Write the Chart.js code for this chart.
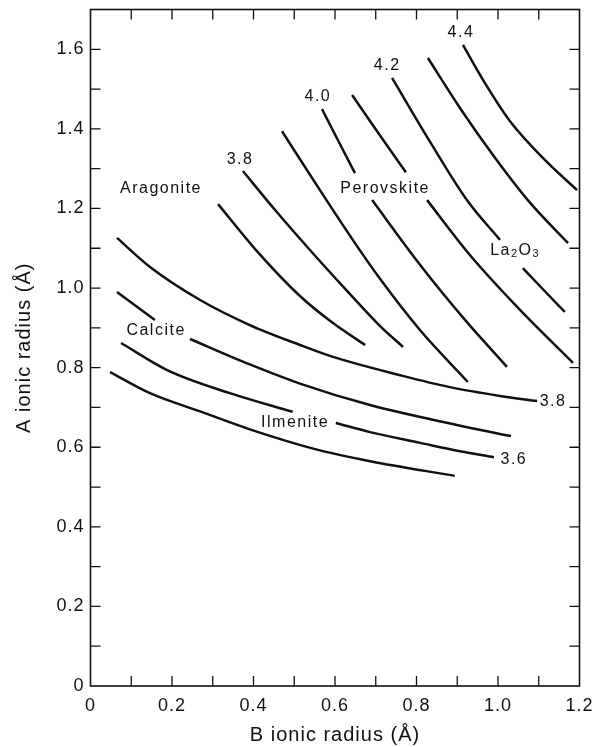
<!DOCTYPE html>
<html>
<head>
<meta charset="utf-8">
<script src="https://cdn.jsdelivr.net/npm/chart.js@4.4.0/dist/chart.umd.min.js"></script>
<style>
    html, body { margin: 0; padding: 0; background: #fff; }
</style>
</head>
<body>
<canvas id="chart" width="596" height="747"></canvas>
<script>
// axis ticks
const xTickValues = [0, 0.2, 0.4, 0.6, 0.8, 1.0, 1.2]
const xTickLabels = ['0', '0.2', '0.4', '0.6', '0.8', '1.0', '1.2']
const yTickValues = [0, 0.2, 0.4, 0.6, 0.8, 1.0, 1.2, 1.4, 1.6]
const yTickLabels = ['0', '0.2', '0.4', '0.6', '0.8', '1.0', '1.2', '1.4', '1.6']
const xMinorTicks = [0.1, 0.2, 0.3, 0.4, 0.5, 0.6, 0.7, 0.8, 0.9, 1.0, 1.1]
const yMinorTicks = [0.1, 0.2, 0.3, 0.4, 0.5, 0.6, 0.7, 0.8, 0.9, 1.0, 1.1, 1.2, 1.3, 1.4, 1.5, 1.6]

// lower family of curves (B ionic radius, A ionic radius)
const lower38 = [[0.065, 1.126], [0.146, 1.053], [0.269, 0.970], [0.391, 0.907], [0.514, 0.857], [0.595, 0.827], [0.760, 0.781], [0.882, 0.751], [1.005, 0.729], [1.096, 0.716]]
const calciteLeft = [[0.065, 0.990], [0.158, 0.920]]
const calciteRight = [[0.244, 0.872], [0.391, 0.808], [0.514, 0.760], [0.686, 0.706], [0.899, 0.656], [1.032, 0.628]]
const ilmeniteLeft = [[0.075, 0.862], [0.188, 0.794], [0.342, 0.736], [0.496, 0.689]]
const ilmeniteRight = [[0.602, 0.661], [0.686, 0.638], [0.809, 0.611], [0.907, 0.590], [0.990, 0.575]]
const lowest = [[0.048, 0.789], [0.146, 0.736], [0.269, 0.690], [0.391, 0.645], [0.556, 0.594], [0.686, 0.565], [0.894, 0.528]]

// upper family (steep curves)
const upper1 = [[0.313, 1.211], [0.404, 1.098], [0.514, 0.980], [0.595, 0.912], [0.674, 0.857]]
const upper38 = [[0.374, 1.294], [0.453, 1.196], [0.539, 1.095], [0.625, 0.998], [0.710, 0.905], [0.767, 0.852]]
const upper3 = [[0.470, 1.394], [0.563, 1.246], [0.649, 1.113], [0.710, 1.024], [0.809, 0.894], [0.926, 0.764]]
const upper40Top = [[0.568, 1.450], [0.607, 1.372], [0.649, 1.289]]
const upper40Bottom = [[0.691, 1.221], [0.809, 1.058], [0.919, 0.920], [1.022, 0.802]]
const upper5Top = [[0.642, 1.485], [0.710, 1.384], [0.774, 1.291]]
const upper5Bottom = [[0.826, 1.221], [0.931, 1.083], [1.054, 0.945], [1.184, 0.812]]
const upper42Top = [[0.740, 1.528], [0.833, 1.368], [0.926, 1.218], [1.005, 1.121]]
const upper42Bottom = [[1.061, 1.050], [1.115, 0.992], [1.164, 0.940]]
const upper7 = [[0.828, 1.578], [0.907, 1.452], [0.993, 1.327], [1.079, 1.214], [1.172, 1.113]]
const upper44 = [[0.914, 1.611], [0.968, 1.515], [1.029, 1.420], [1.115, 1.322], [1.194, 1.246]]

const curves = [lower38, calciteLeft, calciteRight, ilmeniteLeft, ilmeniteRight, lowest,
    upper1, upper38, upper3, upper40Top, upper40Bottom, upper5Top, upper5Bottom,
    upper42Top, upper42Bottom, upper7, upper44]

// text written on the plot
const labelTexts = ['Aragonite', '3.8', '4.0', '4.2', '4.4', 'Perovskite', 'La2O3', 'Calcite', 'Ilmenite', '3.8', '3.6']
const labelX = [0.173, 0.367, 0.558, 0.728, 0.909, 0.723, 1.042, 0.161, 0.502, 1.135, 1.039]
const labelY = [1.251, 1.322, 1.480, 1.560, 1.641, 1.251, 1.095, 0.894, 0.663, 0.714, 0.570]

const FONT = "'Liberation Sans', Arial, Helvetica, sans-serif"
const INK = '#111'

function drawLabel(ctx, text, px, py) {
    // digits after letters become subscripts (La2O3)
    if (!/[A-Za-z]\d/.test(text)) {
        ctx.font = `16px ${FONT}`
        ctx.fillText(text, px, py)
        return
    }
    const parts = text.split(/(\d)/).filter(p => p !== '')
    const widths = parts.map(p => {
        ctx.font = /\d/.test(p) ? `11px ${FONT}` : `16px ${FONT}`
        return ctx.measureText(p).width
    })
    let cx = px - widths.reduce((a, b) => a + b, 0) / 2
    ctx.textAlign = 'left'
    parts.forEach((p, i) => {
        const sub = /\d/.test(p)
        ctx.font = sub ? `11px ${FONT}` : `16px ${FONT}`
        ctx.fillText(p, cx, sub ? py + 4 : py)
        cx += widths[i]
    })
    ctx.textAlign = 'center'
}

// keep the plot box where the reference has it
function noScalePadding(s) {
    s.paddingLeft = 0
    s.paddingRight = 0
    s.paddingTop = 0
    s.paddingBottom = 0
}

const decorations = {
    id: 'decorations',
    beforeDraw(chart) {
        chart.ctx.letterSpacing = '1px'
    },
    afterDatasetsDraw(chart) {
        const { ctx, chartArea: a, scales: { x, y } } = chart
        ctx.save()
        ctx.strokeStyle = INK
        ctx.lineWidth = 1.6
        ctx.strokeRect(a.left, a.top, a.right - a.left, a.bottom - a.top)

        // inward ticks on all four sides
        ctx.lineWidth = 1.3
        ctx.beginPath()
        xMinorTicks.forEach(v => {
            const px = x.getPixelForValue(v)
            ctx.moveTo(px, a.bottom); ctx.lineTo(px, a.bottom - 10)
            ctx.moveTo(px, a.top); ctx.lineTo(px, a.top + 10)
        })
        yMinorTicks.forEach(v => {
            const py = y.getPixelForValue(v)
            ctx.moveTo(a.left, py); ctx.lineTo(a.left + 10, py)
            ctx.moveTo(a.right, py); ctx.lineTo(a.right - 10, py)
        })
        ctx.stroke()

        ctx.fillStyle = INK
        ctx.textAlign = 'center'
        ctx.textBaseline = 'middle'
        ctx.letterSpacing = '1.5px'
        labelTexts.forEach((t, i) => {
            drawLabel(ctx, t, x.getPixelForValue(labelX[i]), y.getPixelForValue(labelY[i]))
        })
        ctx.restore()
    }
}

new Chart(document.getElementById('chart'), {
    type: 'line',
    data: {
        datasets: curves.map(c => ({
            data: c.map(p => ({ x: p[0], y: p[1] })),
            borderColor: INK,
            borderWidth: 2.5,
            pointRadius: 0,
            fill: false,
            cubicInterpolationMode: 'monotone'
        }))
    },
    options: {
        responsive: false,
        animation: false,
        layout: { padding: { left: 12, right: 16.5, top: 9.5, bottom: 0 } },
        plugins: { legend: { display: false }, tooltip: { enabled: false } },
        scales: {
            x: {
                type: 'linear',
                min: 0,
                max: 1.2,
                grid: { display: false, drawTicks: false },
                border: { display: false },
                afterBuildTicks: s => { s.ticks = xTickValues.map(v => ({ value: v })) },
                afterFit: s => { s.height = 61; noScalePadding(s) },
                ticks: {
                    padding: 9,
                    color: INK,
                    maxRotation: 0,
                    autoSkip: false,
                    font: { family: FONT, size: 18 },
                    callback: v => xTickLabels[xTickValues.indexOf(v)]
                },
                title: { display: true, text: 'B ionic radius (Å)', color: INK, padding: 0, font: { family: FONT, size: 20 } }
            },
            y: {
                type: 'linear',
                min: 0,
                max: 1.7,
                grid: { display: false, drawTicks: false },
                border: { display: false },
                afterBuildTicks: s => { s.ticks = yTickValues.map(v => ({ value: v })) },
                afterFit: s => { s.width = 78.5; noScalePadding(s) },
                ticks: {
                    padding: 6,
                    color: INK,
                    autoSkip: false,
                    font: { family: FONT, size: 18 },
                    callback: v => yTickLabels[yTickValues.indexOf(v)]
                },
                title: { display: true, text: 'A ionic radius (Å)', color: INK, padding: 0, font: { family: FONT, size: 20 } }
            }
        }
    },
    plugins: [decorations]
})
</script>
</body>
</html>
